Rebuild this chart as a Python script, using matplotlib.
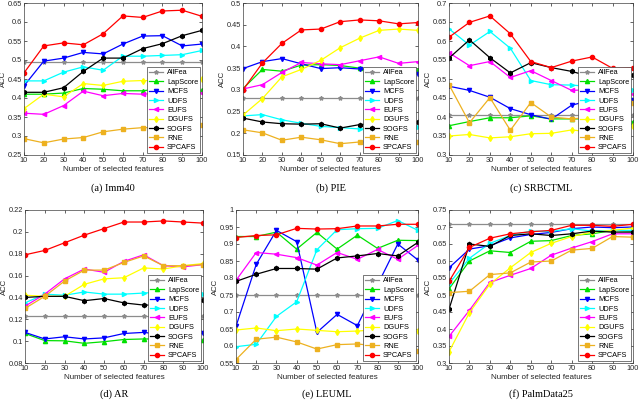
import numpy as np
import matplotlib
matplotlib.use("Agg")
import matplotlib.pyplot as plt

x = [10, 20, 30, 40, 50, 60, 70, 80, 90, 100]

methods = ["AllFea", "LapScore", "MCFS", "UDFS", "EUFS", "DGUFS", "SOGFS", "RNE", "SPCAFS"]
colors = ["#8c8c8c", "#00e000", "#0000ff", "#00ffff", "#ff00ff", "#ffff00", "#000000", "#edb120", "#ff0000"]
markers = ["*", "^", "v", ">", "<", "d", "h", "s", "o"]

# (a) Imm40
imm40 = {
    "AllFea": [0.494] * 10,
    "LapScore": [0.410, 0.410, 0.413, 0.425, 0.423, 0.419, 0.419, 0.425, 0.430, 0.420],
    "MCFS": [0.432, 0.497, 0.505, 0.520, 0.516, 0.542, 0.563, 0.564, 0.537, 0.542],
    "UDFS": [0.445, 0.445, 0.468, 0.482, 0.473, 0.510, 0.510, 0.512, 0.514, 0.525],
    "EUFS": [0.360, 0.357, 0.380, 0.418, 0.406, 0.412, 0.410, 0.413, 0.415, 0.413],
    "DGUFS": [0.372, 0.410, 0.403, 0.438, 0.433, 0.444, 0.446, 0.445, 0.447, 0.449],
    "SOGFS": [0.415, 0.415, 0.427, 0.470, 0.505, 0.505, 0.530, 0.543, 0.564, 0.578],
    "RNE": [0.293, 0.282, 0.292, 0.296, 0.311, 0.318, 0.322, 0.322, 0.325, 0.328],
    "SPCAFS": [0.466, 0.537, 0.545, 0.540, 0.569, 0.616, 0.612, 0.629, 0.631, 0.615],
}

# (b) PIE
pie = {
    "AllFea": [0.282] * 10,
    "LapScore": [0.303, 0.347, 0.343, 0.357, 0.358, 0.356, 0.350, 0.345, 0.348, 0.345],
    "MCFS": [0.349, 0.365, 0.372, 0.360, 0.349, 0.351, 0.348, 0.340, 0.342, 0.336],
    "UDFS": [0.240, 0.243, 0.231, 0.223, 0.216, 0.213, 0.210, 0.210, 0.212, 0.215],
    "EUFS": [0.302, 0.312, 0.340, 0.363, 0.360, 0.358, 0.367, 0.376, 0.361, 0.365],
    "DGUFS": [0.242, 0.280, 0.330, 0.347, 0.368, 0.397, 0.419, 0.437, 0.440, 0.437],
    "SOGFS": [0.235, 0.226, 0.222, 0.221, 0.222, 0.212, 0.220, 0.222, 0.225, 0.227],
    "RNE": [0.208, 0.201, 0.184, 0.191, 0.185, 0.176, 0.180, 0.180, 0.180, 0.180],
    "SPCAFS": [0.300, 0.362, 0.407, 0.438, 0.440, 0.457, 0.461, 0.459, 0.452, 0.455],
}

# (c) SRBCTML
srbct = {
    "AllFea": [0.405] * 10,
    "LapScore": [0.377, 0.388, 0.398, 0.398, 0.403, 0.395, 0.395, 0.395, 0.390, 0.387],
    "MCFS": [0.481, 0.470, 0.452, 0.422, 0.406, 0.394, 0.431, 0.445, 0.450, 0.446],
    "UDFS": [0.632, 0.589, 0.625, 0.581, 0.496, 0.485, 0.484, 0.480, 0.475, 0.470],
    "EUFS": [0.569, 0.535, 0.546, 0.504, 0.522, 0.496, 0.470, 0.472, 0.465, 0.460],
    "DGUFS": [0.350, 0.354, 0.345, 0.348, 0.356, 0.357, 0.366, 0.360, 0.365, 0.375],
    "SOGFS": [0.555, 0.603, 0.556, 0.516, 0.543, 0.530, 0.520, 0.505, 0.523, 0.510],
    "RNE": [0.485, 0.385, 0.451, 0.365, 0.438, 0.400, 0.395, 0.400, 0.410, 0.437],
    "SPCAFS": [0.610, 0.649, 0.666, 0.619, 0.546, 0.530, 0.547, 0.558, 0.528, 0.530],
}

# (d) AR
ar = {
    "AllFea": [0.123] * 10,
    "LapScore": [0.107, 0.1005, 0.1003, 0.098, 0.0995, 0.1015, 0.102, 0.102, 0.101, 0.101],
    "MCFS": [0.108, 0.102, 0.104, 0.102, 0.103, 0.107, 0.108, 0.106, 0.106, 0.107],
    "UDFS": [0.135, 0.143, 0.142, 0.145, 0.143, 0.143, 0.144, 0.145, 0.144, 0.143],
    "EUFS": [0.132, 0.143, 0.157, 0.166, 0.163, 0.173, 0.179, 0.169, 0.168, 0.170],
    "DGUFS": [0.142, 0.141, 0.141, 0.152, 0.157, 0.158, 0.167, 0.166, 0.169, 0.171],
    "SOGFS": [0.140, 0.141, 0.141, 0.137, 0.139, 0.135, 0.133, 0.133, 0.135, 0.138],
    "RNE": [0.130, 0.141, 0.155, 0.165, 0.165, 0.172, 0.178, 0.169, 0.169, 0.170],
    "SPCAFS": [0.179, 0.183, 0.190, 0.197, 0.203, 0.209, 0.209, 0.210, 0.209, 0.208],
}

# (e) LEUML
leuml = {
    "AllFea": [0.75] * 10,
    "LapScore": [0.922, 0.922, 0.935, 0.885, 0.934, 0.885, 0.926, 0.887, 0.911, 0.910],
    "MCFS": [0.658, 0.840, 0.940, 0.907, 0.640, 0.693, 0.660, 0.780, 0.900, 0.853],
    "UDFS": [0.598, 0.605, 0.687, 0.730, 0.883, 0.942, 0.945, 0.946, 0.969, 0.940],
    "EUFS": [0.793, 0.875, 0.870, 0.860, 0.838, 0.875, 0.855, 0.884, 0.855, 0.896],
    "DGUFS": [0.647, 0.653, 0.645, 0.650, 0.646, 0.642, 0.644, 0.648, 0.645, 0.644],
    "SOGFS": [0.790, 0.811, 0.828, 0.828, 0.826, 0.859, 0.865, 0.872, 0.865, 0.905],
    "RNE": [0.560, 0.620, 0.626, 0.612, 0.591, 0.604, 0.606, 0.600, 0.595, 0.586],
    "SPCAFS": [0.919, 0.925, 0.927, 0.946, 0.944, 0.945, 0.953, 0.953, 0.958, 0.958],
}

# (f) PalmData25
palm = {
    "AllFea": [0.71] * 10,
    "LapScore": [0.518, 0.600, 0.630, 0.625, 0.658, 0.660, 0.675, 0.680, 0.690, 0.688],
    "MCFS": [0.580, 0.635, 0.645, 0.668, 0.678, 0.684, 0.695, 0.700, 0.698, 0.700],
    "UDFS": [0.533, 0.608, 0.652, 0.675, 0.688, 0.687, 0.695, 0.688, 0.690, 0.690],
    "EUFS": [0.378, 0.455, 0.537, 0.558, 0.578, 0.617, 0.638, 0.657, 0.680, 0.680],
    "DGUFS": [0.333, 0.448, 0.532, 0.580, 0.625, 0.652, 0.672, 0.685, 0.690, 0.697],
    "SOGFS": [0.458, 0.650, 0.643, 0.675, 0.680, 0.675, 0.680, 0.688, 0.685, 0.685],
    "RNE": [0.507, 0.511, 0.560, 0.565, 0.597, 0.600, 0.632, 0.637, 0.672, 0.670],
    "SPCAFS": [0.540, 0.640, 0.667, 0.680, 0.686, 0.690, 0.705, 0.705, 0.702, 0.708],
}

panels = [
    (imm40, "(a) Imm40", (0.25, 0.65), np.arange(0.25, 0.651, 0.05)),
    (pie, "(b) PIE", (0.15, 0.5), np.arange(0.15, 0.501, 0.05)),
    (srbct, "(c) SRBCTML", (0.3, 0.7), np.arange(0.3, 0.701, 0.05)),
    (ar, "(d) AR", (0.08, 0.22), np.arange(0.08, 0.221, 0.02)),
    (leuml, "(e) LEUML", (0.55, 1.0), np.arange(0.55, 1.001, 0.05)),
    (palm, "(f) PalmData25", (0.3, 0.75), np.arange(0.3, 0.751, 0.05)),
]

# axes boxes in pixels (left, top, right, bottom) of the 640x400 figure
boxes = [
    (24, 3, 202, 155), (243, 3, 418, 155), (449, 3, 633, 155),
    (25, 210, 203, 363), (236, 210, 418, 363), (449, 210, 633, 363),
]
caption_y = [188, 188, 188, 394, 394, 394]

plt.rcParams["font.family"] = "Liberation Sans"
fig = plt.figure(figsize=(6.4, 4.0), dpi=100)

for (data, title, ylim, yticks), (l, t, r, b), cy in zip(panels, boxes, caption_y):
    ax = fig.add_axes([l / 640, 1 - b / 400, (r - l) / 640, (b - t) / 400])
    for m, c, mk in zip(methods, colors, markers):
        ax.plot(x, data[m], color=c, marker=mk, markersize=3, linewidth=0.9, label=m)
    ax.set_xlim(10, 100)
    ax.set_ylim(*ylim)
    ax.set_xticks(x)
    ax.set_yticks(yticks)
    ax.set_yticklabels(["{:g}".format(round(v, 2)) for v in yticks])
    ax.tick_params(direction="in", length=2, width=0.5, labelsize=5.3, top=True, right=True,
                   colors="#262626", pad=1.5)
    for s in ax.spines.values():
        s.set_color("#404040")
        s.set_linewidth(0.5)
    ax.set_xlabel("Number of selected features", fontsize=5.8, labelpad=1.5, color="#262626")
    ax.set_ylabel("ACC", fontsize=5.6, labelpad=0.6, color="#262626")
    leg = ax.legend(loc="lower right", fontsize=5.3, handlelength=2.0, handletextpad=0.5,
                    labelspacing=0.3, borderpad=0.25, borderaxespad=0.25,
                    fancybox=False, framealpha=1, edgecolor="#404040")
    leg.get_frame().set_linewidth(0.5)
    fig.text((l + r) / 2 / 640, 1 - cy / 400, title, ha="center", va="center",
             fontsize=7.5, family="Liberation Serif")

fig.savefig("out.png", dpi=100)
